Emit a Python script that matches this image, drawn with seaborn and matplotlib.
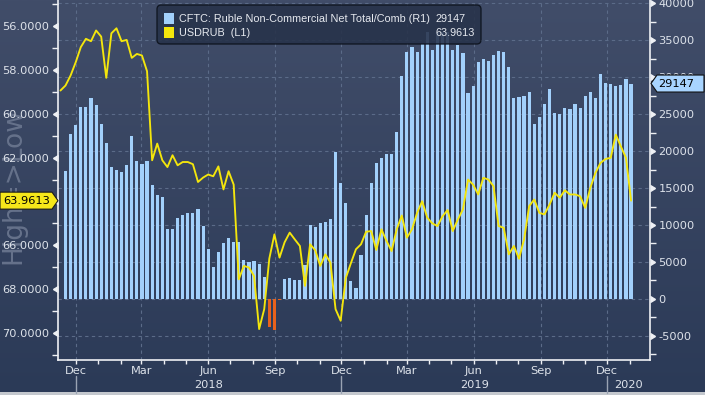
import numpy as np
import pandas as pd
import matplotlib
matplotlib.use("Agg")
import matplotlib.pyplot as plt
import matplotlib.dates as mdates
import matplotlib.markers as mmarkers
from matplotlib.ticker import MultipleLocator, FixedLocator, FuncFormatter
from matplotlib.colors import LinearSegmentedColormap
from matplotlib.patches import FancyBboxPatch, Rectangle, Polygon
from matplotlib.transforms import blended_transform_factory
from matplotlib.lines import Line2D
import seaborn as sns

# ---------------- data ----------------
cftc_first_week = "2017-11-17"
cftc_net = [
    17344, 22358, 23577, 25926, 26016, 27236, 26287, 23713, 21138, 17886,
    17480, 17209, 18067, 22087, 18699, 18293, 18699, 15447, 14092, 13821,
    9485, 9485, 10930, 11382, 11653, 11653, 12195, 9892, 6820, 4290,
    6323, 7543, 8266, 7678, 7678, 5285, 4968, 5149, 4743, 3026,
    -3749, -4200, -150, 2755, 2890, 2575, 2575, 4607, 9986, 9756,
    10298, 10434, 10840, 19824, 15623, 13008, 2439, 1531, 5962, 11382,
    15718, 18428, 19065, 19648, 19648, 22629, 30217, 33469, 34146, 33378,
    34507, 36179, 33740, 36179, 36179, 36179, 33645, 34417, 33288, 27913,
    28862, 32114, 32520, 32249, 33062, 33514, 33378, 31436, 27236, 27371,
    27507, 28049, 23713, 24661, 26423, 28455, 25203, 25068, 25881, 25745,
    26423, 25881, 27507, 28049, 27236, 30488, 29268, 29133, 28862, 28997,
    29810, 29147,
]
usdrub_first_week = "2017-11-10"
usdrub = [
    58.94,
    58.71, 58.25, 57.65, 56.96, 56.58, 56.69, 56.20, 56.48, 58.36, 56.33,
    56.10, 56.69, 56.63, 57.45, 57.27, 57.34, 58.06, 62.12, 61.36, 62.12,
    62.43, 61.89, 62.35, 62.20, 62.20, 62.30, 63.11, 62.91, 62.77, 62.85,
    62.40, 63.45, 62.62, 63.23, 67.55, 66.94, 67.01, 67.40, 69.82, 68.91,
    66.60, 65.50, 66.56, 65.86, 65.42, 65.73, 66.03, 67.85, 65.95, 66.22,
    66.94, 66.41, 66.79, 68.91, 69.44, 67.50, 66.82, 66.18, 65.95, 65.38,
    65.35, 66.21, 65.27, 65.80, 66.26, 65.27, 64.64, 65.65, 65.27, 64.52,
    63.99, 64.74, 65.00, 65.12, 64.67, 64.39, 65.35, 64.82, 64.36, 63.00,
    63.23, 63.68, 62.92, 63.00, 63.30, 65.12, 65.20, 66.41, 66.03, 66.61,
    65.73, 64.21, 63.91, 64.52, 64.59, 64.14, 63.60, 63.83, 63.49, 63.68,
    63.68, 63.76, 64.29, 63.38, 62.70, 62.24, 62.06, 62.01, 60.95, 61.49,
    62.01, 63.9613,
]
series_names = ["CFTC: Ruble Non-Commercial Net Total/Comb (R1)", "USDRUB  (L1)"]
last_labels = ["29147", "63.9613"]
month_labels = {12: "Dec", 3: "Mar", 6: "Jun", 9: "Sep"}
year_labels = ["2018", "2019", "2020"]
usdrub_ticks = [56, 58, 60, 62, 64, 66, 68, 70]
usdrub_hidden = [64]  # covered by the last-value tag in the reference
cftc_ticks = [-5000, 0, 5000, 10000, 15000, 20000, 25000, 30000, 35000, 40000]
watermark = "High=>Low"

# ---------------- styles ----------------
BLUE = "#a2d0fb"
ORANGE = "#e8621c"
YELLOW = "#f4e60c"
TXT = "#dde2ea"
GRID = "#5b6b88"
AXC = "#eef0f4"
FS = 8.2
W, H = 705, 395

sns.set_style("dark")
plt.rcParams["font.family"] = ["DejaVu Sans"]
plt.rcParams["axes.facecolor"] = "none"

fig = plt.figure(figsize=(W / 100, H / 100), dpi=100)
fig.patch.set_facecolor("#2e3c58")

# background gradient over whole figure
bg = fig.add_axes([0, 0, 1, 1], zorder=-10)
bg.axis("off")
grad = np.linspace(0, 1, 256).reshape(-1, 1)
cmap = LinearSegmentedColormap.from_list("bg", ["#414d69", "#2b3a57"])
bg.imshow(grad, aspect="auto", cmap=cmap, extent=[0, 1, 0, 1], origin="upper")
fig.patches.append(Rectangle((0, 0), 1, 3 / H, transform=fig.transFigure,
                             facecolor="#c4c8ce", edgecolor="none", zorder=-5))

L, R, T, B = 58, 650, 0, 360
ax = fig.add_axes([L / W, (H - B) / H, (R - L) / W, (B - T) / H])
ax.set_facecolor("none")
ax2 = ax.twinx()
ax2.set_facecolor("none")

# ---------------- data frames ----------------
bars = pd.DataFrame({"date": pd.date_range(cftc_first_week, periods=len(cftc_net), freq="7D"),
                     "net": cftc_net})
bars["x"] = mdates.date2num(bars["date"])
bars["sign"] = np.where(bars["net"] < 0, "neg", "pos")
line = pd.DataFrame({"date": pd.date_range(usdrub_first_week, periods=len(usdrub), freq="7D"),
                     "px": usdrub})
line["x"] = mdates.date2num(line["date"])

sns.barplot(data=bars, x="x", y="net", hue="sign", hue_order=["pos", "neg"],
            palette={"pos": BLUE, "neg": ORANGE}, native_scale=True, width=0.62,
            saturation=1, errorbar=None, legend=False, linewidth=0,
            edgecolor="none", ax=ax)
sns.lineplot(data=line, x="x", y="px", ax=ax2, color=YELLOW, linewidth=1.35)

for a in (ax, ax2):
    a.set_xlabel("")
    a.set_ylabel("")

# limits
x0 = mdates.date2num(pd.Timestamp("2017-11-06 16:00"))
x1 = mdates.date2num(pd.Timestamp("2020-01-29"))
ax.set_xlim(x0, x1)
ax.set_ylim(-8265, 40450)
ax2.set_ylim(71.23, 54.81)

# grid
ax.set_axisbelow(True)
ax.grid(True, which="major", axis="both", color=GRID, linestyle=(0, (3, 3)), linewidth=0.8)
ax2.grid(False)

# spines
ax.spines["top"].set_visible(False)
for s in ("left", "right", "bottom"):
    ax.spines[s].set_color(AXC)
    ax.spines[s].set_linewidth(1.2)
    ax.spines[s].set_visible(True)
for s in ax2.spines.values():
    s.set_visible(False)

# x axis
ax.xaxis.set_major_locator(mdates.MonthLocator(bymonth=[12, 3, 6, 9], bymonthday=1))
ax.xaxis.set_minor_locator(mdates.MonthLocator(bymonthday=1))
ax.xaxis.set_major_formatter(FuncFormatter(lambda v, p: month_labels.get(mdates.num2date(v).month, "")))
ax.tick_params(axis="x", which="both", direction="out", length=3, width=1, color=AXC,
               labelsize=FS, labelcolor=TXT, pad=1.5, bottom=True)

# right axis (bars)
ax.set_yticks(cftc_ticks)
ax.set_yticklabels([str(v) for v in cftc_ticks])
ax.yaxis.set_minor_locator(MultipleLocator(2500))
ax.tick_params(axis="y", which="both", left=False, right=True, labelleft=False, labelright=True)
ax.tick_params(axis="y", which="major", length=5, width=1, color=AXC, labelsize=FS,
               labelcolor=TXT, pad=1.2)
ax.tick_params(axis="y", which="minor", length=4, width=1, color=AXC)

# left axis (line)
ax2.set_yticks(usdrub_ticks)
ax2.set_yticklabels(["" if v in usdrub_hidden else f"{v:.4f}" for v in usdrub_ticks])
ax2.yaxis.set_minor_locator(MultipleLocator(1))
ax2.tick_params(axis="y", which="both", left=True, right=False, labelleft=True, labelright=False)
ax2.tick_params(axis="y", which="major", length=5, width=1, color=AXC, labelsize=FS,
                labelcolor=TXT, pad=1.6)
ax2.tick_params(axis="y", which="minor", length=4, width=1, color=AXC)

for t in ax.yaxis.get_major_ticks():
    t.tick2line.set_marker(mmarkers.CARETRIGHTBASE)
for t in ax2.yaxis.get_major_ticks():
    t.tick1line.set_marker(mmarkers.CARETLEFTBASE)

# year labels and separators
tr_year = blended_transform_factory(ax.transData, fig.transFigure)
seps = [mdates.date2num(pd.Timestamp(f"{int(y) - 1}-12-01")) for y in year_labels]
for i, y in enumerate(year_labels):
    xs = seps[i]
    xe = seps[i + 1] if i + 1 < len(seps) else x1
    ax.text((xs + xe) / 2, 1 - 385 / H, y, transform=tr_year, ha="center", va="center",
            fontsize=FS, color=TXT, clip_on=False)
    fig.lines.append(Line2D([xs, xs], [1 - 376 / H, 1 - 393 / H], transform=tr_year,
                            color="#9aa3b3", linewidth=1))

# watermark
fig.text(13 / W, 1 - 186 / H, watermark, rotation=90, ha="center", va="center",
         fontsize=19, color="#66728b", zorder=-1)

# legend box
fig.patches.append(FancyBboxPatch((157 / W, 1 - 44 / H), 324 / W, 39 / H,
                                  boxstyle="round,pad=0,rounding_size=0.006",
                                  mutation_aspect=W / H, transform=fig.transFigure,
                                  facecolor="#27324a", edgecolor="#0d131d", linewidth=1,
                                  alpha=0.88, zorder=3))
for i, (name, val, col) in enumerate(zip(series_names, last_labels, [BLUE, YELLOW])):
    yc = [18.5, 32.5][i]
    fig.patches.append(Rectangle((164 / W, 1 - (yc + 5) / H), 10 / W, 10 / H,
                                 transform=fig.transFigure, facecolor=col,
                                 edgecolor="none", zorder=4))
    t = fig.text(179 / W, 1 - yc / H, name, ha="left", va="center", fontsize=8,
                 family="Liberation Sans", color="#e6e9ef", zorder=5)
    if i == 0:
        fig.canvas.draw()
        w = t.get_window_extent(fig.canvas.get_renderer()).width
        leg_fs = 8 * 251 / w
    t.set_fontsize(leg_fs)
    fig.text(436 / W, 1 - yc / H, val, ha="left", va="center", fontsize=leg_fs,
             family="Liberation Sans", color="#e6e9ef", zorder=5)

# last value tags
fig.canvas.draw()
yl = ax2.transData.transform((x0, usdrub[-1]))[1]
yr = ax.transData.transform((x0, cftc_net[-1]))[1]
hh = 8.5
fig.patches.append(Polygon([(0, yl - hh), (52, yl - hh), (58, yl), (52, yl + hh), (0, yl + hh)],
                           closed=True, transform=None, facecolor="#f6e71a",
                           edgecolor="#1a1a1a", linewidth=0.8, zorder=6))
fig.text(3 / W, yl / H, last_labels[1], ha="left", va="center", fontsize=FS,
         color="black", zorder=7)
fig.patches.append(Polygon([(651, yr), (657, yr + hh), (704, yr + hh), (704, yr - hh), (657, yr - hh)],
                           closed=True, transform=None, facecolor="#a8d4ff",
                           edgecolor="#111111", linewidth=0.8, zorder=6))
fig.text(658 / W, yr / H, last_labels[0], ha="left", va="center", fontsize=FS,
         color="black", zorder=7)

fig.savefig("out.png", dpi=100)
